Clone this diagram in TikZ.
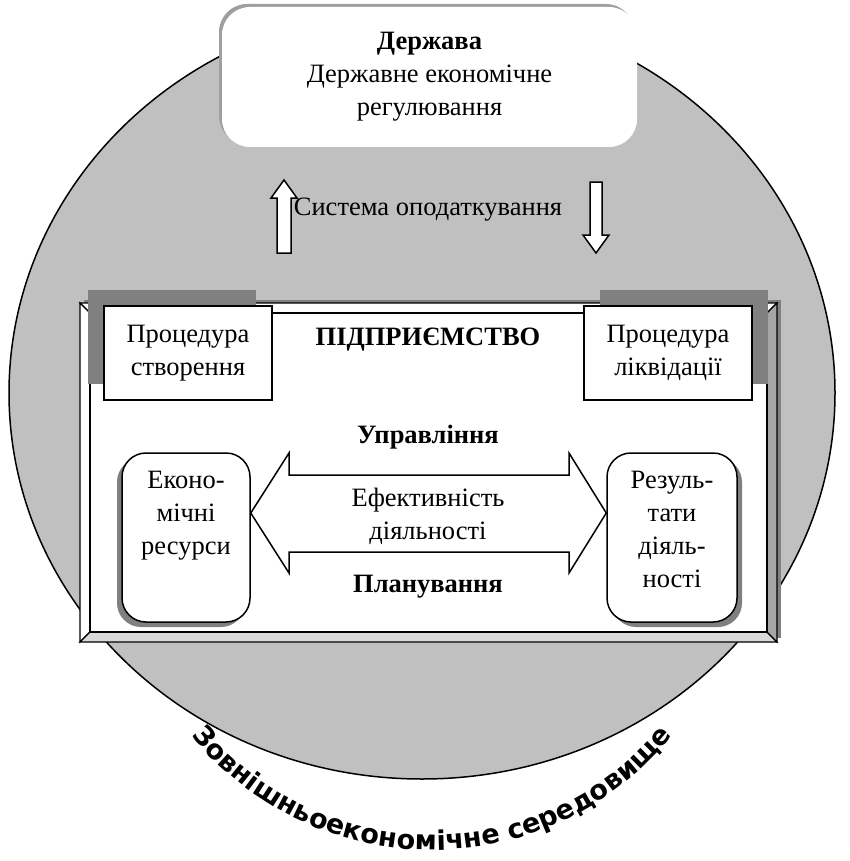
\documentclass[tikz,border=0pt]{standalone}
\usepackage{fontspec}
\setmainfont{Liberation Serif}
\newfontfamily\arcfont{DejaVu Sans}
\usetikzlibrary{decorations.text}
\definecolor{envgray}{HTML}{C0C0C0}
\definecolor{shadegray}{HTML}{808080}
\definecolor{facegray}{HTML}{A6A6A6}
\definecolor{lightface}{HTML}{D9D9D9}

\begin{document}
\begin{tikzpicture}[x=1pt,y=-1pt]
	\tikzstyle{block}=[draw, line width=1.5pt, fill=white, inner sep=0]
	\tikzstyle{shade}=[fill=shadegray, inner sep=0]
	\tikzstyle{txt}=[align=center, inner sep=0, font=\fontsize{26.5}{33}\selectfont]
	\tikzstyle{bold}=[txt, font=\fontsize{26.5}{33}\selectfont\bfseries]
	\tikzstyle{face}=[draw, line width=1.2pt]
	\newcommand\XMid{428}
	\newcommand\Yproc{353}
	\newcommand\Yres{537.5}
	\newcommand\Yeff{513}

	\useasboundingbox (0,0) rectangle (850,861);

	% Environment
	\draw [fill=envgray, line width=1.5pt] (422,393) ellipse [x radius=413, y radius=386];

	% State
	\node [fill=gray!75, rounded corners=28, minimum width=415, minimum height=140, inner sep=0] at (426.5,74) {};
	\node [txt, fill=white, rounded corners=28, minimum width=415, minimum height=140] at (429.5,77) (state) {\textbf{Держава}\\Державне економічне\\регулювання};

	% Taxes
	\draw [block] (277,253) -- (277,198) -- (271,198) -- (284,180) -- (297,198) -- (291,198) -- (291,253) -- cycle;
	\draw [block] (590,182) -- (602,182) -- (602,235) -- (609,235) -- (596,253) -- (583,235) -- (590,235) -- cycle;
	\node [txt] at (\XMid,210) (tax) {Система оподаткування};

	% Enterprise frame
	\fill [shadegray] (84,300) rectangle (781,638);
	\draw [face, fill=white] (80,303) -- (777,303) -- (767,313) -- (90,313) -- cycle;
	\draw [face, fill=white] (80,303) -- (90,313) -- (90,632) -- (80,642) -- cycle;
	\draw [face, fill=lightface] (80,642) -- (90,632) -- (767,632) -- (777,642) -- cycle;
	\draw [face, fill=facegray] (777,303) -- (777,642) -- (767,632) -- (767,313) -- cycle;
	\draw [face, fill=white] (90,313) rectangle (767,632);

	% Procedures
	\node [shade, minimum width=168, minimum height=94] at (172,\Yproc-16) {};
	\node [block, txt, minimum width=168, minimum height=94] at (188,\Yproc) (create) {Процедура\\створення};
	\node [shade, minimum width=168, minimum height=94] at (684,\Yproc-16) {};
	\node [block, txt, minimum width=168, minimum height=94] at (668,\Yproc) (close) {Процедура\\ліквідації};
	\node [bold] at (\XMid,340) (firm) {ПІДПРИЄМСТВО};

	% Resources and results
	\node [shade, rounded corners=24, minimum width=128, minimum height=169] at (181,\Yres+5) {};
	\node [block, rounded corners=24, minimum width=128, minimum height=169] at (186,\Yres) (res) {};
	\node [txt, anchor=north] at ([yshift=-19pt]res.north) (restxt) {Еконо-\\мічні\\ресурси};
	\node [shade, rounded corners=24, minimum width=130, minimum height=169] at (677,\Yres+5) {};
	\node [block, rounded corners=24, minimum width=130, minimum height=169] at (672,\Yres) (out) {};
	\node [txt, anchor=north] at ([yshift=-19pt]out.north) (outtxt) {Резуль-\\тати\\діяль-\\ності};

	% Efficiency
	\draw [block] (res.east |- 0,\Yeff) -- (289,453) -- (289,475) -- (569,475) -- (569,453) -- (out.west |- 0,\Yeff)
		-- (569,573) -- (569,552) -- (289,552) -- (289,573) -- cycle;
	\node [txt] at (428,516) (eff) {Ефективність\\діяльності};
	\node [bold] at (\XMid,437) (mgmt) {Управління};
	\node [bold] at (\XMid,587) (plan) {Планування};

	% Environment label
	\path [decorate, decoration={text along path, text align=center,
		text={|\arcfont\bfseries\fontsize{27}{30}\selectfont|Зовнішньоекономічне середовище}}]
		(163.5,695) arc [start angle=150, end angle=30, radius=310];
\end{tikzpicture}
\end{document}
